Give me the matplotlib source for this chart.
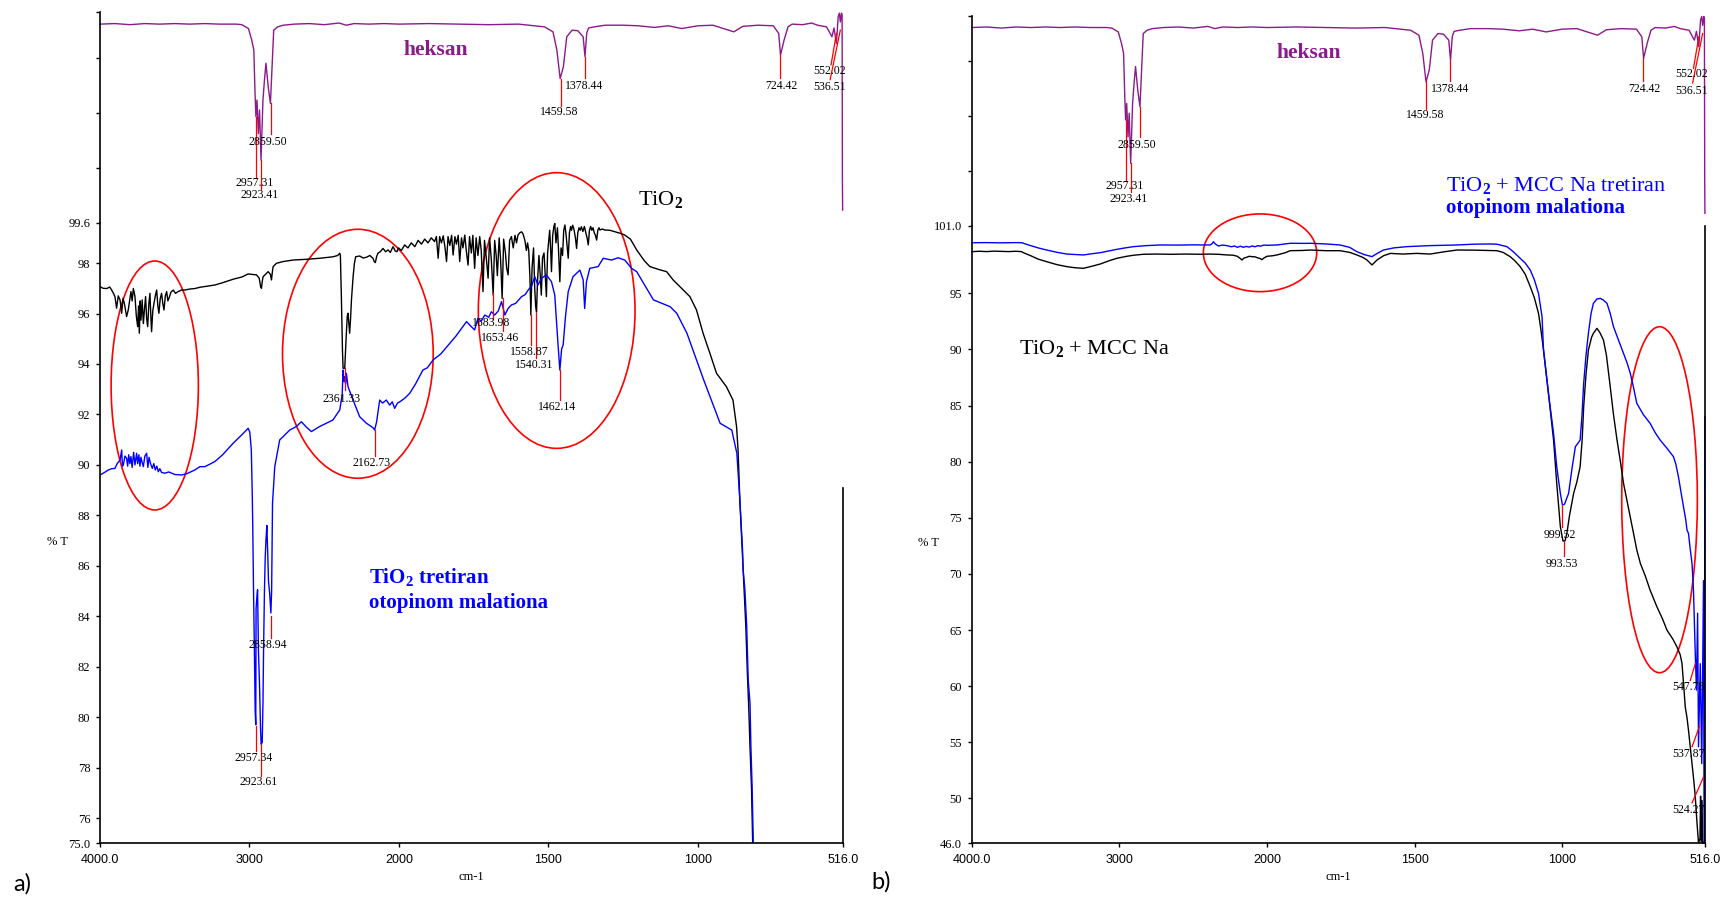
import numpy as np
import matplotlib
matplotlib.use("Agg")
import matplotlib.pyplot as plt
from matplotlib.patches import Ellipse

plt.rcParams['font.family'] = ['Liberation Serif', 'DejaVu Serif']
plt.rcParams['mathtext.fontset'] = 'custom'
plt.rcParams['mathtext.rm'] = 'Liberation Serif'
plt.rcParams['mathtext.bf'] = 'Liberation Serif:bold'
plt.rcParams['mathtext.it'] = 'Liberation Serif:italic'

BLACK, BLUE, RED, PURPLE = '#000000', '#0000ff', '#ff0000', '#8b1a8b'

# ---- hexane reference spectrum (arbitrary %T scale, same in both panels)
hexane = [(4000, 36.1), (3900, 36.2), (3800, 36.0), (3700, 36.2), (3600, 36.1), (3500, 36.2),
          (3400, 36.1), (3300, 36.2), (3200, 36.1), (3088, 36.1), (3051, 36.0), (3007, 35.3),
          (2985, 33.2), (2971, 31.4), (2963, 23.5), (2957, 19.3), (2950, 22.3), (2941, 16.2),
          (2933, 20.5), (2923, 11.4), (2910, 22.3), (2900, 25.9), (2890, 29.0), (2875, 24.7),
          (2860, 21.7), (2849, 28.4), (2838, 35.0), (2812, 35.6), (2775, 35.9), (2700, 36.1),
          (2600, 36.2), (2500, 36.0), (2400, 36.3), (2353, 35.9), (2300, 36.2), (2200, 36.1),
          (2100, 36.2), (2000, 36.1), (1900, 36.2), (1800, 36.1), (1700, 36.0), (1600, 36.1),
          (1513, 35.6), (1485, 34.7), (1472, 31.4), (1461, 26.2), (1450, 28.4), (1439, 33.8),
          (1421, 35.0), (1402, 34.9), (1384, 33.8), (1378, 30.2), (1372, 34.5), (1366, 35.4),
          (1347, 35.6), (1311, 35.9), (1250, 35.9), (1200, 35.8), (1145, 35.5), (1100, 35.8),
          (1054, 35.3), (1000, 35.8), (950, 35.9), (880, 34.7), (850, 35.7), (800, 35.9),
          (748, 35.8), (730, 34.4), (724, 30.5), (712, 33.2), (699, 35.6), (685, 36.1),
          (650, 36.0), (620, 36.3), (600, 35.9), (570, 35.6), (552, 33.8), (545, 35.4),
          (537, 32.6), (531, 37.5), (527, 38.1), (524, 36.5), (520, 38.1), (518, 37.8),
          (517, 8.0), (516.2, 2.3)]
hex_marks = [(2957.31, 19.3, 8.2), (2923.41, 11.4, 6.2), (2859.50, 21.7, 16.2),
             (1459.58, 26.2, 21.2), (1378.44, 30.2, 26.3), (724.42, 30.5, 26.3)]
hex_slants = [((537, 34.4), (555, 28.7)), ((524, 35.0), (558, 26.0))]
hex_labels = [('2957.31', 2965, 7.3), ('2923.41', 2935, 5.0), ('2859.50', 2880, 14.7),
              ('1459.58', 1463, 20.1), ('1378.44', 1380, 24.9), ('724.42', 721, 24.9),
              ('552.02', 561, 27.6), ('536.51', 561, 24.6)]

# ---- panel a) TiO2 (black) and TiO2 treated with malathion (blue)
a_black = [(4000, 97.07), (3980, 97.00), (3955, 96.99), (3935, 97.05), (3922, 96.93), (3910, 96.80),
           (3900, 96.67), (3889, 96.21), (3878, 96.70), (3866, 96.54), (3855, 96.01), (3846, 96.60),
           (3837, 96.40), (3822, 95.88), (3811, 96.14), (3802, 96.50), (3793, 96.87), (3785, 96.50),
           (3777, 96.99), (3766, 96.67), (3757, 95.90), (3748, 95.48), (3742, 96.30), (3737, 95.22),
           (3731, 96.50), (3726, 95.74), (3718, 96.54), (3710, 95.60), (3703, 96.14), (3695, 96.67),
           (3688, 95.80), (3681, 95.48), (3673, 96.40), (3666, 96.80), (3660, 95.90), (3655, 95.28),
           (3647, 96.10), (3639, 96.40), (3630, 96.70), (3621, 96.93), (3613, 96.30), (3606, 96.01),
           (3597, 96.60), (3588, 96.80), (3580, 96.40), (3572, 96.14), (3563, 96.70), (3554, 96.87),
           (3546, 96.50), (3539, 96.60), (3525, 96.85), (3510, 96.93), (3495, 96.80), (3477, 96.87),
           (3455, 96.93), (3432, 96.93), (3400, 96.97), (3365, 96.99), (3332, 97.04), (3232, 97.13),
           (3180, 97.22), (3109, 97.36), (3050, 97.45), (3009, 97.57), (2953, 97.53), (2935, 97.40),
           (2925, 97.05), (2920, 97.00), (2914, 97.30), (2909, 97.46), (2875, 97.66), (2860, 97.55),
           (2853, 97.33), (2846, 97.70), (2842, 97.86), (2820, 97.99), (2775, 98.06), (2708, 98.12),
           (2619, 98.15), (2530, 98.19), (2441, 98.25), (2410, 98.30), (2396, 98.39), (2392, 98.30),
           (2385, 96.54), (2378, 94.50), (2374, 93.83), (2363, 93.83), (2357, 94.60), (2352, 95.22),
           (2346, 95.90), (2341, 96.01), (2335, 95.60), (2330, 95.22), (2324, 95.80), (2318, 96.54),
           (2307, 97.46), (2298, 98.00), (2290, 98.25), (2263, 98.28), (2240, 98.20), (2218, 98.23),
           (2195, 98.30), (2174, 98.19), (2165, 98.05), (2158, 98.02), (2150, 98.25), (2141, 98.39),
           (2125, 98.45), (2107, 98.58), (2090, 98.45), (2073, 98.52), (2058, 98.42), (2040, 98.65),
           (2025, 98.48), (2014, 98.45), (2003, 98.60), (1992, 98.50), (1981, 98.72), (1970, 98.60),
           (1959, 98.80), (1947, 98.65), (1936, 98.90), (1925, 98.75), (1914, 98.95), (1903, 98.80),
           (1892, 99.00), (1881, 98.85), (1875, 99.05), (1869, 98.19), (1864, 99.05), (1858, 98.80),
           (1852, 99.08), (1846, 98.60), (1841, 98.06), (1836, 99.05), (1830, 98.70), (1824, 99.10),
           (1819, 98.32), (1813, 99.05), (1808, 98.75), (1802, 99.10), (1797, 98.06), (1791, 99.00),
           (1786, 98.60), (1780, 99.11), (1775, 98.50), (1769, 97.92), (1764, 99.05), (1758, 98.40),
           (1753, 99.10), (1747, 97.79), (1742, 99.00), (1736, 98.30), (1730, 99.05), (1725, 98.50),
           (1719, 96.87), (1714, 98.90), (1708, 98.20), (1702, 97.40), (1697, 99.00), (1691, 98.10),
           (1685, 96.73), (1680, 98.90), (1675, 98.30), (1671, 97.50), (1665, 99.00), (1660, 98.10),
           (1655, 96.60), (1650, 98.95), (1644, 98.40), (1640, 97.80), (1635, 97.53), (1630, 98.90),
           (1624, 99.05), (1618, 98.60), (1612, 99.10), (1607, 98.80), (1602, 99.11), (1596, 99.20),
           (1590, 99.24), (1585, 99.15), (1579, 98.90), (1574, 98.50), (1570, 98.80), (1566, 98.50),
           (1562, 97.40), (1559, 95.94), (1555, 97.80), (1550, 98.60), (1546, 97.00), (1543, 96.30),
           (1540, 96.07), (1537, 97.20), (1532, 98.30), (1528, 97.60), (1524, 96.73), (1520, 98.20),
           (1515, 98.40), (1511, 97.50), (1507, 96.67), (1503, 98.40), (1499, 98.90), (1496, 99.30),
           (1493, 98.60), (1490, 97.66), (1486, 99.10), (1482, 99.45), (1479, 99.57), (1475, 98.80),
           (1470, 99.40), (1466, 98.40), (1462, 97.26), (1458, 98.60), (1453, 98.30), (1449, 99.30),
           (1445, 99.51), (1441, 99.10), (1438, 98.70), (1434, 98.19), (1430, 99.20), (1426, 99.45),
           (1423, 99.30), (1419, 99.50), (1415, 99.35), (1410, 99.00), (1406, 98.58), (1402, 99.20),
           (1398, 99.40), (1394, 99.30), (1390, 99.44), (1385, 99.25), (1380, 99.45), (1375, 99.20),
           (1371, 99.00), (1367, 98.72), (1363, 99.30), (1359, 99.45), (1355, 99.30), (1351, 99.40),
           (1347, 99.20), (1343, 99.10), (1339, 98.91), (1335, 99.30), (1331, 99.40), (1328, 99.31),
           (1320, 99.35), (1312, 99.31), (1295, 99.30), (1278, 99.24), (1260, 99.18), (1245, 99.11),
           (1226, 98.95), (1205, 98.52), (1180, 98.10), (1161, 97.86), (1127, 97.73), (1105, 97.66),
           (1083, 97.33), (1049, 96.93), (1027, 96.67), (1005, 96.14), (983, 95.22), (960, 94.42),
           (938, 93.63), (905, 93.10), (883, 92.57), (871, 91.52), (866, 90.59), (860, 88.61),
           (852, 86.63), (846, 85.20), (840, 83.60), (835, 81.80), (830, 80.30), (826, 78.80),
           (821, 77.20), (817, 75.00)]
a_blue = [(4000, 89.60), (3970, 89.70), (3944, 89.80), (3920, 89.85), (3900, 89.86), (3885, 90.05),
          (3866, 90.19), (3855, 90.59), (3850, 89.95), (3844, 90.00), (3833, 90.35), (3822, 90.26),
          (3815, 89.95), (3808, 90.40), (3800, 90.05), (3793, 90.33), (3785, 89.90), (3775, 90.50),
          (3766, 90.00), (3755, 90.46), (3748, 90.05), (3740, 90.40), (3733, 89.95), (3726, 90.30),
          (3718, 90.10), (3710, 89.93), (3700, 90.35), (3688, 90.46), (3680, 89.90), (3672, 90.30),
          (3662, 90.05), (3650, 89.86), (3640, 90.05), (3630, 89.80), (3620, 89.95), (3610, 89.73),
          (3600, 89.85), (3588, 89.70), (3566, 89.67), (3540, 89.72), (3500, 89.62), (3454, 89.60),
          (3420, 89.65), (3365, 89.80), (3332, 89.93), (3298, 89.93), (3232, 90.13), (3180, 90.40),
          (3109, 90.86), (3050, 91.20), (3009, 91.45), (2998, 91.30), (2988, 90.60), (2982, 89.00),
          (2978, 87.50), (2975, 86.00), (2973, 85.00), (2968, 83.00), (2962, 80.25), (2958, 79.70),
          (2956, 84.30), (2950, 84.80), (2946, 85.05), (2940, 82.60), (2933, 81.30), (2926, 79.50),
          (2922, 78.93), (2915, 79.00), (2910, 80.50), (2906, 82.60), (2900, 85.00), (2895, 86.30),
          (2890, 87.00), (2884, 87.60), (2878, 86.50), (2873, 85.40), (2865, 84.90), (2857, 84.13),
          (2852, 85.00), (2846, 88.48), (2831, 89.93), (2798, 90.99), (2775, 91.12), (2731, 91.38),
          (2687, 91.52), (2653, 91.71), (2620, 91.50), (2586, 91.32), (2531, 91.52), (2442, 91.78),
          (2396, 92.18), (2380, 92.80), (2374, 93.76), (2368, 93.30), (2363, 93.50), (2357, 93.20),
          (2352, 93.63), (2341, 93.10), (2307, 92.57), (2263, 91.91), (2218, 91.65), (2185, 91.52),
          (2170, 91.45), (2163, 91.38), (2150, 91.70), (2129, 92.57), (2110, 92.45), (2085, 92.57),
          (2062, 92.37), (2045, 92.50), (2029, 92.24), (2010, 92.45), (1996, 92.51), (1980, 92.65),
          (1964, 92.84), (1945, 93.20), (1920, 93.76), (1905, 93.85), (1886, 94.16), (1860, 94.40),
          (1830, 94.82), (1810, 95.10), (1791, 95.41), (1774, 95.68), (1760, 95.50), (1747, 95.35),
          (1736, 95.81), (1725, 95.70), (1713, 95.94), (1700, 95.85), (1691, 96.07), (1680, 95.94),
          (1668, 96.10), (1657, 96.47), (1646, 95.94), (1635, 96.20), (1624, 96.34), (1610, 96.40),
          (1590, 96.67), (1578, 96.75), (1568, 96.93), (1556, 97.10), (1546, 97.46), (1535, 97.13),
          (1524, 97.39), (1507, 97.53), (1490, 97.26), (1479, 96.73), (1474, 95.80), (1468, 94.75),
          (1462, 93.76), (1456, 94.60), (1451, 94.75), (1443, 95.90), (1434, 96.87), (1418, 97.46),
          (1395, 97.72), (1384, 97.33), (1379, 96.20), (1373, 97.26), (1362, 97.79), (1334, 97.86),
          (1317, 98.19), (1289, 98.12), (1267, 98.21), (1245, 98.12), (1222, 97.79), (1205, 97.66),
          (1149, 96.54), (1093, 96.27), (1071, 96.01), (1037, 95.22), (981, 93.37), (926, 91.65),
          (887, 91.38), (870, 90.46), (860, 88.61), (851, 86.63), (849, 85.84), (843, 85.04),
          (837, 83.59), (832, 81.47), (826, 80.55), (823, 78.83), (819, 77.25), (815, 75.00)]
a_marks = [(2361.33, 93.83, 92.95), (2162.73, 91.38, 90.35), (1683.98, 96.8, 95.8),
           (1653.46, 96.6, 95.3), (1558.87, 95.94, 94.75), (1540.31, 96.07, 94.25),
           (1462.14, 93.76, 92.57), (2957.34, 79.66, 78.67), (2923.61, 78.93, 77.68),
           (2858.94, 84.0, 83.14)]
a_labels = [('2361.33', 2383, 92.6), ('2162.73', 2185, 90.09), ('1683.98', 1692, 95.62),
            ('1653.46', 1661, 95.04), ('1558.87', 1565, 94.49), ('1540.31', 1549, 93.96),
            ('1462.14', 1471, 92.31), ('2957.34', 2973, 78.4), ('2923.61', 2938, 77.42),
            ('2858.94', 2877, 82.88)]
a_yticks = [75, 76, 78, 80, 82, 84, 86, 88, 90, 92, 94, 96, 98, 99.6]
a_ylabels = ['75.0', '76', '78', '80', '82', '84', '86', '88', '90', '92', '94', '96', '98', '99.6']

# ---- panel b) TiO2 + MCC Na (black) and treated (blue)
b_black = [(4000, 98.71), (3950, 98.75), (3900, 98.72), (3850, 98.76), (3800, 98.74), (3750, 98.72),
           (3700, 98.75), (3661, 98.71), (3650, 98.62), (3600, 98.35), (3550, 98.05), (3492, 97.82),
           (3420, 97.55), (3356, 97.38), (3300, 97.28), (3243, 97.23), (3190, 97.40), (3130, 97.61),
           (3070, 97.90), (3017, 98.12), (2950, 98.30), (2900, 98.40), (2837, 98.48), (2750, 98.50),
           (2650, 98.48), (2550, 98.50), (2450, 98.48), (2384, 98.50), (2330, 98.48), (2271, 98.42),
           (2230, 98.40), (2200, 98.30), (2180, 98.10), (2169, 97.97), (2155, 98.15), (2140, 98.20),
           (2120, 98.30), (2102, 98.27), (2080, 98.25), (2060, 98.15), (2045, 98.10), (2034, 98.00),
           (2020, 98.15), (2000, 98.30), (1980, 98.35), (1966, 98.42), (1940, 98.60), (1921, 98.80),
           (1880, 98.82), (1853, 98.86), (1800, 98.80), (1752, 98.80), (1720, 98.65), (1695, 98.42),
           (1675, 98.20), (1661, 97.97), (1644, 97.53), (1627, 97.97), (1605, 98.35), (1582, 98.56),
           (1540, 98.50), (1492, 98.56), (1447, 98.50), (1400, 98.70), (1356, 98.86), (1300, 98.85),
           (1244, 98.82), (1221, 98.80), (1200, 98.65), (1176, 98.27), (1160, 97.90), (1142, 97.38),
           (1125, 96.70), (1108, 95.60), (1094, 94.60), (1080, 93.22), (1072, 91.80), (1063, 89.95),
           (1045, 85.80), (1029, 81.93), (1018, 78.00), (1006, 74.21), (997, 72.93), (990, 72.95),
           (984, 73.60), (975, 75.20), (961, 77.18), (950, 78.20), (939, 79.56), (932, 82.00),
           (927, 84.90), (919, 87.80), (911, 89.95), (900, 91.10), (894, 91.44), (882, 91.88),
           (872, 91.50), (860, 90.84), (850, 89.50), (837, 86.68), (826, 84.20), (814, 81.93),
           (802, 79.90), (792, 78.07), (780, 76.50), (769, 75.10), (758, 73.60), (747, 72.13),
           (735, 70.94), (718, 69.80), (702, 68.56), (690, 67.80), (679, 67.08), (660, 66.00),
           (645, 65.00), (625, 64.20), (611, 63.50), (600, 62.80), (594, 62.03), (588, 60.00),
           (583, 58.17), (577, 57.20), (572, 56.09), (566, 54.60), (560, 53.12), (554, 51.60),
           (549, 50.15), (546, 48.90), (543, 47.77), (538, 46.05), (533, 46.40), (531, 50.20),
           (529, 46.10), (526, 49.80), (524, 46.00), (520, 46.10)]
b_blue = [(4000, 99.51), (3900, 99.52), (3800, 99.50), (3700, 99.52), (3661, 99.51), (3650, 99.46),
          (3600, 99.25), (3550, 99.05), (3492, 98.86), (3420, 98.65), (3356, 98.50), (3300, 98.46),
          (3243, 98.42), (3190, 98.52), (3130, 98.62), (3070, 98.78), (3017, 98.92), (2960, 99.05),
          (2904, 99.16), (2820, 99.25), (2723, 99.31), (2600, 99.30), (2500, 99.32), (2420, 99.31),
          (2384, 99.31), (2370, 99.45), (2362, 99.60), (2350, 99.40), (2328, 99.22), (2300, 99.30),
          (2271, 99.25), (2240, 99.15), (2220, 99.22), (2200, 99.10), (2180, 99.20), (2159, 99.10),
          (2140, 99.18), (2120, 99.12), (2100, 99.22), (2080, 99.15), (2060, 99.25), (2045, 99.20),
          (2020, 99.30), (2000, 99.28), (1966, 99.31), (1921, 99.46), (1870, 99.45), (1853, 99.46),
          (1800, 99.40), (1752, 99.31), (1720, 99.10), (1695, 98.71), (1670, 98.45), (1644, 98.27),
          (1627, 98.55), (1605, 98.86), (1570, 99.05), (1526, 99.16), (1450, 99.25), (1356, 99.31),
          (1300, 99.38), (1244, 99.40), (1221, 99.38), (1187, 99.16), (1165, 98.70), (1142, 98.12),
          (1125, 97.70), (1108, 97.08), (1094, 96.20), (1080, 95.00), (1068, 92.92), (1063, 89.95),
          (1045, 85.80), (1029, 82.53), (1018, 79.50), (1006, 77.18), (999, 76.14), (992, 76.20),
          (978, 77.18), (966, 79.50), (955, 81.34), (945, 81.70), (939, 81.93), (933, 84.00),
          (927, 86.98), (919, 89.50), (911, 91.44), (902, 93.20), (894, 94.11), (882, 94.50),
          (871, 94.55), (860, 94.40), (848, 94.11), (837, 93.20), (826, 92.03), (810, 90.90),
          (792, 89.65), (780, 88.80), (769, 87.87), (758, 86.60), (747, 85.20), (725, 84.20),
          (702, 83.42), (685, 82.60), (668, 81.93), (645, 81.20), (623, 80.45), (615, 79.80),
          (606, 78.67), (598, 77.40), (589, 76.00), (581, 74.80), (577, 73.91), (572, 73.62),
          (566, 72.20), (560, 70.94), (555, 68.56), (549, 62.90), (545, 59.65), (541, 66.50),
          (538, 54.60), (532, 62.00), (527, 53.10), (521, 69.40), (518, 46.00), (516.5, 84.00)]
b_marks = [(999.52, 76.14, 74.2), (993.53, 72.93, 71.6)]
b_slants = [((549, 62.0), (566, 60.5)), ((535, 56.4), (560, 54.6)), ((521, 51.9), (560, 49.6))]
b_labels = [('999.52', 1007, 73.5), ('993.53', 1000, 70.9), ('547.78', 573, 59.95),
            ('537.87', 573, 53.95), ('524.27', 573, 48.96)]
b_yticks = [46, 50, 55, 60, 65, 70, 75, 80, 85, 90, 95, 101]
b_ylabels = ['46.0', '50', '55', '60', '65', '70', '75', '80', '85', '90', '95', '101.0']

x_ticks = [4000, 3000, 2000, 1500, 1000, 516]
x_labels = ['4000.0', '3000', '2000', '1500', '1000', '516.0']


def fwd(x):
    x = np.asarray(x, dtype=float)
    return np.where(x >= 2000, x - 2000, 2 * (x - 2000))


def inv(u):
    u = np.asarray(u, dtype=float)
    return np.where(u >= 0, u + 2000, u / 2 + 2000)


W, H = 1724, 898
fig = plt.figure(figsize=(W / 100, H / 100), dpi=100)


def box(l, t, r, b):
    return [l / W, 1 - b / H, (r - l) / W, (b - t) / H]


def ftext(x, y, s, **kw):
    return fig.text(x / W, 1 - y / H, s, **kw)


def xy(series):
    arr = np.array(series, dtype=float)
    return arr[:, 0], arr[:, 1]


def hexane_panel(ax):
    ax.set_xscale('function', functions=(fwd, inv))
    ax.set_xlim(4000, 516)
    ax.set_ylim(0, 38.25)
    ax.patch.set_alpha(0)
    for s in ['top', 'right', 'bottom']:
        ax.spines[s].set_visible(False)
    ax.spines['left'].set_linewidth(1.2)
    ax.set_xticks([])
    ax.set_yticks([10, 20, 30, 38.25])
    ax.set_yticklabels([])
    ax.tick_params(axis='y', direction='out', length=3, width=1)
    wn, t = xy(hexane)
    ax.plot(wn, t, color=PURPLE, lw=1.0, clip_on=False)
    for w, t0, t1 in hex_marks:
        ax.plot([w, w], [t0, t1], color=RED, lw=0.9)
    for p0, p1 in hex_slants:
        ax.plot([p0[0], p1[0]], [p0[1], p1[1]], color=RED, lw=0.9, clip_on=False)
    for s, w, t0 in hex_labels:
        ax.text(w, t0, s, ha='center', va='center', fontsize=8.5)


def main_panel(ax, yticks, ylabels, ylim):
    ax.set_xscale('function', functions=(fwd, inv))
    ax.set_xlim(4000, 516)
    ax.set_ylim(*ylim)
    ax.patch.set_alpha(0)
    ax.spines['top'].set_visible(False)
    for s in ['left', 'bottom', 'right']:
        ax.spines[s].set_linewidth(1.2)
    ax.set_xticks(x_ticks)
    ax.set_xticklabels(x_labels)
    ax.set_yticks(yticks)
    ax.set_yticklabels(ylabels)
    ax.minorticks_off()
    ax.tick_params(axis='y', direction='out', length=3, width=1, pad=4, labelsize=9)
    ax.tick_params(axis='x', direction='out', length=3, width=1, pad=5, labelsize=9,
                   labelfontfamily='Liberation Sans')


ax_hex_a = fig.add_axes(box(100, 12.3, 842.7, 222.7))
ax_hex_b = fig.add_axes(box(971.7, 15.7, 1705, 226))
ax_a = fig.add_axes(box(100, 222.7, 842.7, 843.3))
ax_b = fig.add_axes(box(971.7, 226, 1705, 843.3))

hexane_panel(ax_hex_a)
hexane_panel(ax_hex_b)

# panel a
main_panel(ax_a, a_yticks, a_ylabels, (75, 99.6))
ax_a.spines['right'].set_bounds(75, 89.1)
wn, t = xy(a_black)
ax_a.plot(wn, t, color=BLACK, lw=1.0)
wn, t = xy(a_blue)
ax_a.plot(wn, t, color=BLUE, lw=1.0)
for w, t0, t1 in a_marks:
    ax_a.plot([w, w], [t0, t1], color=RED, lw=0.9)
for s, w, t0 in a_labels:
    ax_a.text(w, t0, s, ha='center', va='center', fontsize=8.5)
for c, w, h in [((0.0737, 0.7377), 0.1175, 0.4012), ((0.3472, 0.7888), 0.2029, 0.4012),
                ((0.6149, 0.8585), 0.211, 0.4443)]:
    ax_a.add_patch(Ellipse(c, w, h, transform=ax_a.transAxes, fill=False,
                           edgecolor=RED, lw=1.2, clip_on=False))

# panel b
main_panel(ax_b, b_yticks, b_ylabels, (46, 101))
wn, t = xy(b_black)
ax_b.plot(wn, t, color=BLACK, lw=1.0, clip_on=False)
wn, t = xy(b_blue)
ax_b.plot(wn, t, color=BLUE, lw=1.0, clip_on=False)
for w, t0, t1 in b_marks:
    ax_b.plot([w, w], [t0, t1], color=RED, lw=0.9)
for p0, p1 in b_slants:
    ax_b.plot([p0[0], p1[0]], [p0[1], p1[1]], color=RED, lw=0.9)
for s, w, t0 in b_labels:
    ax_b.text(w, t0, s, ha='center', va='center', fontsize=8.5)
for c, w, h in [((0.3932, 0.9566), 0.1546, 0.1259), ((0.938, 0.5566), 0.1031, 0.5605)]:
    ax_b.add_patch(Ellipse(c, w, h, transform=ax_b.transAxes, fill=False,
                           edgecolor=RED, lw=1.2, clip_on=False))

# titles / annotations
ftext(436, 50, 'heksan', ha='center', va='center', fontsize=15.5, fontweight='bold', color=PURPLE)
ftext(1309, 53, 'heksan', ha='center', va='center', fontsize=15.5, fontweight='bold', color=PURPLE)
ftext(638, 205, r'TiO$_\mathbf{2}$', ha='left', va='baseline', fontsize=16)
ftext(369, 583, r'TiO$_\mathbf{2}$ tretiran', ha='left', va='baseline', fontsize=15,
      fontweight='bold', color=BLUE)
ftext(369, 608, 'otopinom malationa', ha='left', va='baseline', fontsize=15,
      fontweight='bold', color=BLUE)
ftext(1019, 354, r'TiO$_\mathbf{2}$ + MCC Na', ha='left', va='baseline', fontsize=16)
ftext(1446, 191, r'TiO$_\mathbf{2}$ + MCC Na tretiran', ha='left', va='baseline', fontsize=16,
      color=BLUE)
ftext(1446, 213, 'otopinom malationa', ha='left', va='baseline', fontsize=15,
      fontweight='bold', color=BLUE)
ftext(57, 542, '% T', ha='center', va='center', fontsize=9)
ftext(928, 543, '% T', ha='center', va='center', fontsize=9)
ftext(471, 877, 'cm-1', ha='center', va='center', fontsize=9)
ftext(1338, 877, 'cm-1', ha='center', va='center', fontsize=9)
ftext(22, 884, 'a)', ha='center', va='center', fontsize=17, family=['Lato', 'DejaVu Sans'])
ftext(881, 882, 'b)', ha='center', va='center', fontsize=17, family=['Lato', 'DejaVu Sans'])

fig.savefig('out.png', dpi=100)
